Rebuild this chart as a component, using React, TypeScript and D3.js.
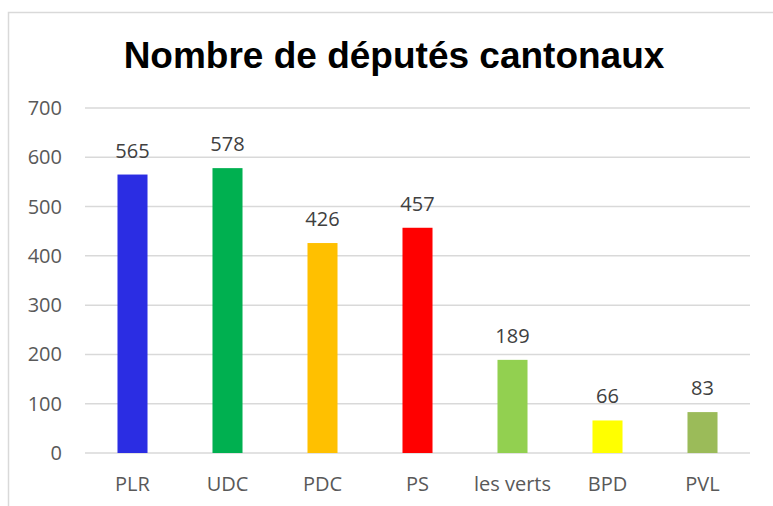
import React, { useEffect, useRef } from 'react';
import * as d3 from 'd3';

const parties = ['PLR', 'UDC', 'PDC', 'PS', 'les verts', 'BPD', 'PVL'];
const seats = [565, 578, 426, 457, 189, 66, 83];
const barColors = ['#2b2de3', '#00b050', '#ffc000', '#ff0000', '#92d050', '#ffff00', '#9bbb59'];
const yTicks = [0, 100, 200, 300, 400, 500, 600, 700];

const App = () => {
  const ref = useRef<SVGSVGElement>(null);

  useEffect(() => {
    const totalWidth = 773;
    const totalHeight = 506;
    const margin = { top: 108, right: 23, bottom: 53, left: 85 };
    const font = "'Open Sans', sans-serif";

    const svg = d3.select(ref.current);
    svg.selectAll('*').remove();
    svg.attr('width', totalWidth).attr('height', totalHeight);

    svg.append('rect')
      .attr('width', totalWidth).attr('height', totalHeight)
      .style('fill', '#fff');

    // chart frame (runs off right/bottom edge)
    svg.append('path')
      .attr('d', `M8.5,${totalHeight + 2}V12.5H${totalWidth + 2}`)
      .style('fill', 'none')
      .style('stroke', '#d9d9d9')
      .style('stroke-width', 1.5);

    const xScale = d3.scaleBand()
      .domain(parties)
      .range([margin.left, totalWidth - margin.right])
      .paddingInner(0.684)
      .paddingOuter(0.342);

    const yScale = d3.scaleLinear()
      .domain([0, 700])
      .range([totalHeight - margin.bottom, margin.top]);

    // gridlines
    svg.append('g')
      .selectAll('line')
      .data(yTicks)
      .enter().append('line')
      .attr('x1', margin.left)
      .attr('x2', totalWidth - margin.right)
      .attr('y1', d => yScale(d))
      .attr('y2', d => yScale(d))
      .style('stroke', '#d9d9d9')
      .style('stroke-width', 1.5);

    // y tick labels
    svg.append('g')
      .selectAll('text')
      .data(yTicks)
      .enter().append('text')
      .attr('x', 62)
      .attr('y', d => yScale(d) + 7)
      .attr('text-anchor', 'end')
      .text(d => d)
      .style('font-family', font)
      .style('font-size', '20px')
      .style('fill', '#595959');

    // bars
    svg.append('g')
      .selectAll('rect')
      .data(seats)
      .enter().append('rect')
      .attr('x', (d, i) => xScale(parties[i]) as number)
      .attr('y', d => yScale(d))
      .attr('width', xScale.bandwidth())
      .attr('height', d => yScale(0) - yScale(d))
      .style('fill', (d, i) => barColors[i]);

    // value labels
    svg.append('g')
      .selectAll('text')
      .data(seats)
      .enter().append('text')
      .attr('x', (d, i) => (xScale(parties[i]) as number) + xScale.bandwidth() / 2)
      .attr('y', d => yScale(d) - 17)
      .attr('text-anchor', 'middle')
      .text(d => d)
      .style('font-family', font)
      .style('font-size', '20px')
      .style('fill', '#404040');

    // category labels
    svg.append('g')
      .selectAll('text')
      .data(parties)
      .enter().append('text')
      .attr('x', d => (xScale(d) as number) + xScale.bandwidth() / 2)
      .attr('y', 491)
      .attr('text-anchor', 'middle')
      .text(d => d)
      .style('font-family', font)
      .style('font-size', '20px')
      .style('fill', '#595959');

    // title
    svg.append('text')
      .attr('x', 394)
      .attr('y', 68)
      .attr('text-anchor', 'middle')
      .text('Nombre de députés cantonaux')
      .style('font-family', "'Liberation Sans', Arial, sans-serif")
      .style('font-weight', 'bold')
      .style('font-size', '37px')
      .style('fill', '#000');
  }, []);

  return (
    <div style={{ position: 'absolute', left: 0, top: 0 }}>
      <svg ref={ref} style={{ display: 'block' }} />
    </div>
  );
};

export default App;
